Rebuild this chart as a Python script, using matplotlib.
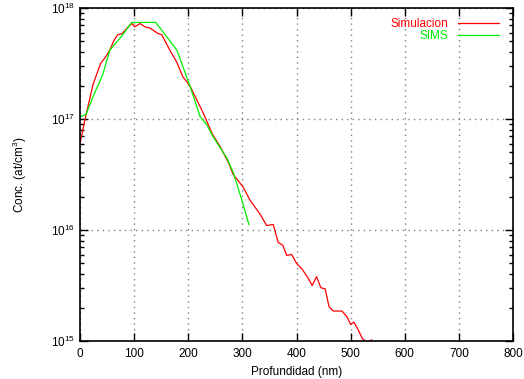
import numpy as np
import matplotlib
matplotlib.use("Agg")
import matplotlib.pyplot as plt
from matplotlib.ticker import LogLocator, NullFormatter, MultipleLocator

plt.rcParams['font.family'] = ['Liberation Sans', 'DejaVu Sans']
plt.rcParams['mathtext.fontset'] = 'custom'
plt.rcParams['mathtext.rm'] = 'Liberation Sans'

# Simulacion (log10 de la concentracion)
sim_x = [0, 9, 24, 38, 46, 55, 63, 70, 78, 89, 96, 101, 111, 120, 129, 144, 151,
         166, 179, 190, 203, 216, 228, 244, 259, 274, 283, 301, 314, 333, 345,
         357, 366, 375, 382, 391, 400, 410, 421, 429, 437, 445, 453, 460, 468,
         484, 493, 500, 506, 514, 522, 530, 539]
sim_log = [16.78, 16.99, 17.31, 17.50, 17.55, 17.62, 17.71, 17.76, 17.77, 17.83,
           17.86, 17.83, 17.86, 17.83, 17.82, 17.77, 17.76, 17.62, 17.51, 17.38,
           17.30, 17.17, 17.05, 16.87, 16.75, 16.61, 16.50, 16.39, 16.27, 16.14,
           16.04, 16.05, 15.89, 15.86, 15.77, 15.78, 15.70, 15.65, 15.57, 15.50,
           15.58, 15.48, 15.47, 15.31, 15.27, 15.27, 15.22, 15.15, 15.17, 15.10,
           15.02, 14.99, 15.01]

# SIMS
sims_x = [0, 11, 24, 42, 55, 76, 94, 96, 140, 179, 203, 222, 234, 246, 271,
          283, 299, 312]
sims_log = [17.02, 17.04, 17.20, 17.40, 17.62, 17.74, 17.86, 17.87, 17.87,
            17.62, 17.30, 17.02, 16.95, 16.84, 16.65, 16.52, 16.27, 16.05]

fs = 8.5

fig = plt.figure(figsize=(5.24, 3.79), dpi=100)
ax = fig.add_axes([80 / 524, 1 - 341 / 379, 433 / 524, 333 / 379])

ax.plot(sim_x, 10 ** np.array(sim_log), color='#ff0000', lw=0.9, label='Simulacion')
ax.plot(sims_x, 10 ** np.array(sims_log), color='#00ee00', lw=0.9, label='SIMS')

ax.set_yscale('log')
ax.set_xlim(0, 800)
ax.set_ylim(1e15, 1e18)
ax.xaxis.set_major_locator(MultipleLocator(100))
ax.yaxis.set_major_locator(LogLocator(base=10, numticks=10))
ax.yaxis.set_minor_locator(LogLocator(base=10, subs=np.arange(2, 10), numticks=10))
ax.yaxis.set_minor_formatter(NullFormatter())

ax.tick_params(which='both', direction='in', top=True, right=True, labelsize=fs)
ax.tick_params(which='major', length=6, width=1)
ax.tick_params(which='minor', length=3, width=1)
ax.tick_params(axis='x', which='major', pad=5)
for s in ax.spines.values():
    s.set_linewidth(1.2)

ax.grid(True, which='major', linestyle=(0, (1, 3)), color='#808080', lw=1)

ax.set_xlabel('Profundidad (nm)', fontsize=fs, labelpad=4)
ax.set_ylabel('Conc. (at/cm$^3$)', fontsize=fs, labelpad=16)

leg = ax.legend(loc='upper right', bbox_to_anchor=(0.9785, 0.983), frameon=False,
                fontsize=fs, markerfirst=False, labelcolor='linecolor',
                handlelength=3.5, handletextpad=0.8, borderaxespad=0,
                borderpad=0.4, labelspacing=0.0)

fig.savefig('out.png', dpi=100)
